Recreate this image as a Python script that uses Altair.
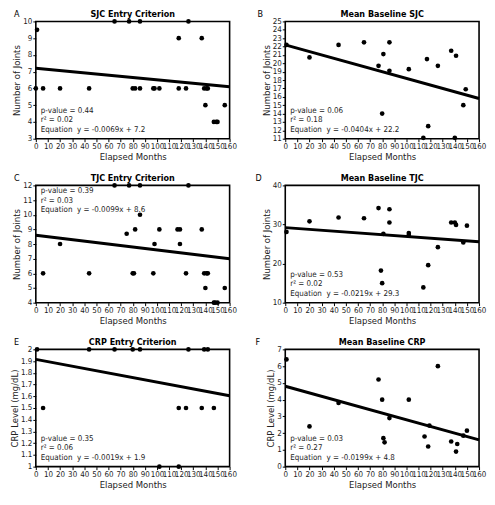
import altair as alt
import pandas as pd

FONT = "Liberation Sans Narrow, Arial Narrow, DejaVu Sans Condensed, sans-serif"
W, H = 195, 118

# ---------------- data ----------------
X_TICKS = list(range(0, 161, 10))
FIT_X = [0, 160]

# A: SJC entry criterion
a_month = [1, 0, 6, 20, 44, 65, 77, 86, 80, 82, 86, 97, 98, 102, 118, 118, 124, 126,
           137, 139, 141, 142, 140, 147, 149, 150, 156]
a_value = [9.5, 6, 6, 6, 6, 10, 10, 10, 6, 6, 6, 6, 6, 6, 9, 6, 6, 10,
           9, 6, 6, 6, 5, 4, 4, 4, 5]
a_fit = [7.2, 6.1]
a_stats = ["p-value = 0.44", "r\u00b2 = 0.02", "Equation\u00a0\u00a0y = -0.0069x + 7.2"]

# B: mean baseline SJC
b_month = [1, 20, 44, 65, 77, 81, 86, 80, 86, 102, 117, 118, 114, 126, 137, 141, 140, 147, 149]
b_value = [22.2, 20.7, 22.2, 22.5, 19.7, 21.1, 22.5, 14.0, 19.1, 19.3, 20.5, 12.5, 11.1,
           19.7, 21.5, 20.9, 11.1, 15.0, 16.9]
b_fit = [22.2, 15.8]
b_stats = ["p-value = 0.06", "r\u00b2 = 0.18", "Equation\u00a0\u00a0y = -0.0404x + 22.2"]

# C: TJC entry criterion
c_month = [6, 20, 44, 65, 77, 86, 86, 75, 82, 80, 81, 97, 98, 102, 117, 119, 119, 124, 126,
           137, 139, 141, 142, 140, 147, 148, 150, 156]
c_value = [6, 8, 6, 12, 12, 12, 10, 8.7, 9, 6, 6, 6, 8, 9, 9, 9, 8, 6, 12,
           9, 6, 6, 6, 5, 4, 4, 4, 5]
c_fit = [8.6, 7.0]
c_stats = ["p-value = 0.39", "r\u00b2 = 0.03", "Equation\u00a0\u00a0y = -0.0099x + 8.6"]

# D: mean baseline TJC
d_month = [1, 20, 44, 65, 77, 86, 86, 80, 79, 81, 102, 102, 114, 118, 126, 137, 140, 141, 147, 150]
d_value = [28.1, 30.8, 31.8, 31.6, 34.2, 33.9, 30.5, 15.0, 18.2, 27.6, 27.8, 27.3, 13.9,
           19.6, 24.2, 30.5, 30.5, 29.9, 25.4, 29.7]
d_fit = [29.2, 25.6]
d_stats = ["p-value = 0.53", "r\u00b2 = 0.02", "Equation\u00a0\u00a0y = -0.0219x + 29.3"]

# E: CRP entry criterion
e_month = [1, 6, 44, 65, 80, 86, 102, 118, 118, 124, 126, 137, 139, 142, 147]
e_value = [2, 1.5, 2, 2, 2, 2, 1, 1, 1.5, 1.5, 2, 1.5, 2, 2, 1.5]
e_fit = [1.915, 1.605]
e_stats = ["p-value = 0.35", "r\u00b2 = 0.06", "Equation\u00a0\u00a0y = -0.0019x + 1.9"]

# F: mean baseline CRP
f_month = [1, 20, 44, 77, 80, 81, 82, 86, 102, 115, 118, 119, 126, 137, 141, 142, 147, 150]
f_value = [6.4, 2.4, 3.8, 5.2, 4.0, 1.7, 1.45, 2.9, 4.0, 1.8, 1.2, 2.45, 6.0, 1.5, 0.9,
           1.35, 1.85, 2.15]
f_fit = [4.8, 1.6]
f_stats = ["p-value = 0.03", "r\u00b2 = 0.27", "Equation\u00a0\u00a0y = -0.0199x + 4.8"]

JOINT_TITLE = "Number of Joints"
CRP_TITLE = "CRP Level (mg/dL)"

ONE = pd.DataFrame({"k": [0]})


def panel(months, values, fit, title, letter, letter_dx, ytitle, ydomain, yvalues,
          stats, stats_top):
    pts = pd.DataFrame({"month": months, "value": values})
    fit_df = pd.DataFrame({"month": FIT_X, "value": fit})
    x = alt.X("month:Q",
              scale=alt.Scale(domain=[0, 160], nice=False, zero=False),
              axis=alt.Axis(values=X_TICKS, title="Elapsed Months", labelOverlap=False,
                            labelFlush=False, labelBound=False, format="d"))
    y = alt.Y("value:Q",
              scale=alt.Scale(domain=ydomain, nice=False, zero=False),
              axis=alt.Axis(values=yvalues, title=ytitle, format=".1~f",
                            labelOverlap=False, labelFlush=False))
    points = alt.Chart(pts).mark_circle(size=22, color="black", opacity=1).encode(x=x, y=y)
    line = alt.Chart(fit_df).mark_line(color="black", strokeWidth=3).encode(x=x, y=y)
    ty = 2 if stats_top else H - 32
    txt = alt.Chart(ONE).mark_text(align="left", baseline="top", font=FONT, fontSize=8,
                                   lineHeight=9.5, color="#222").encode(
        x=alt.value(5), y=alt.value(ty), text=alt.value(stats))
    lab = alt.Chart(ONE).mark_text(align="left", baseline="middle", font=FONT, fontSize=9,
                                   color="black").encode(
        x=alt.value(letter_dx), y=alt.value(-7), text=alt.value(letter))
    ttl = alt.Chart(ONE).mark_text(align="center", baseline="middle", font=FONT, fontSize=9,
                                   fontWeight="bold", color="black").encode(
        x=alt.value(W / 2), y=alt.value(-7), text=alt.value(title))
    return alt.layer(line, points, txt, lab, ttl).properties(width=W, height=H)


A = panel(a_month, a_value, a_fit, "SJC Entry Criterion", "A", -22, JOINT_TITLE,
          [3, 10], list(range(3, 11)), a_stats, False)
B = panel(b_month, b_value, b_fit, "Mean Baseline SJC", "B", -28, JOINT_TITLE,
          [11, 25], list(range(11, 26)), b_stats, False)
C = panel(c_month, c_value, c_fit, "TJC Entry Criterion", "C", -22, JOINT_TITLE,
          [4, 12], list(range(4, 13)), c_stats, True)
D = panel(d_month, d_value, d_fit, "Mean Baseline TJC", "D", -30, JOINT_TITLE,
          [10, 40], [10, 20, 30, 40], d_stats, False)
E = panel(e_month, e_value, e_fit, "CRP Entry Criterion", "E", -22, CRP_TITLE,
          [1, 2], [1, 1.1, 1.2, 1.3, 1.4, 1.5, 1.6, 1.7, 1.8, 1.9, 2], e_stats, False)
F = panel(f_month, f_value, f_fit, "Mean Baseline CRP", "F", -30, CRP_TITLE,
          [0, 7], list(range(0, 8)), f_stats, False)

chart = alt.concat(A, B, C, D, E, F, columns=2,
                   spacing={"row": 47, "column": 56}, bounds="flush").properties(
    padding=0
).configure_axis(
    labelFont=FONT, titleFont=FONT, labelFontSize=8, titleFontSize=9.5,
    titleFontWeight="normal", labelColor="#222", titleColor="#222",
    tickColor="black", tickSize=3, domain=False, grid=False,
    labelPadding=1, titlePadding=1
).configure_view(
    stroke="black", strokeWidth=1.6
)

chart.save("out.html", embed_options={"renderer": "svg", "actions": False})
